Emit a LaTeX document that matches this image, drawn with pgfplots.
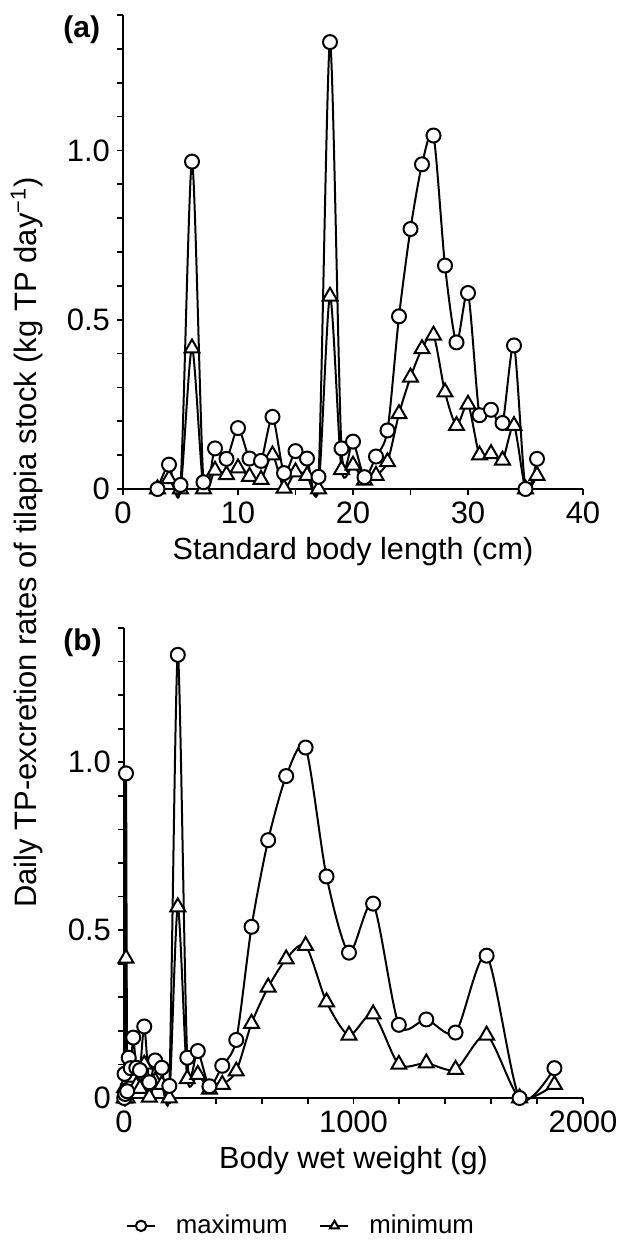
\documentclass[border=0pt]{standalone}
\usepackage{fontspec}
\setmainfont{Liberation Sans}
\usepackage{pgfplots}
\usepackage{pgfplotstable}
\pgfplotsset{compat=1.18}

\pgfplotstableread{
L W mx mn
3 1.09 0.000 0.000
4 2.57 0.072 0.030
5 5.03 0.012 0.000
6 8.68 0.967 0.416
7 13.79 0.020 0.000
8 20.58 0.120 0.055
9 29.31 0.089 0.042
10 40.2 0.180 0.062
11 53.5 0.090 0.037
12 69.5 0.083 0.028
13 88.3 0.213 0.100
14 110.3 0.047 0.002
15 135.7 0.112 0.050
16 164.7 0.090 0.040
17 197.5 0.036 0.000
18 234.4 1.320 0.569
19 275.7 0.120 0.057
20 321.6 0.140 0.070
21 372.3 0.035 0.026
22 428.1 0.096 0.040
23 489.1 0.173 0.080
24 555.7 0.510 0.222
25 628.1 0.768 0.330
26 706.6 0.959 0.414
27 791.3 1.044 0.454
28 882.5 0.660 0.286
29 980.4 0.433 0.187
30 1085.4 0.579 0.250
31 1197.6 0.218 0.100
32 1317.3 0.234 0.104
33 1444.7 0.195 0.085
34 1580.0 0.424 0.187
35 1723.6 0.000 0.000
36 1875.6 0.089 0.040
}\datatable

\pgfplotsset{
  common/.style={
    scale only axis,
    axis x line=bottom, axis y line=left,
    axis line style={-, line width=1pt},
    tick align=outside,
    major tick length=3pt, minor tick length=3pt,
    tick style={line width=0.9pt, black},
    clip=false,
    ymin=0, ymax=1.4,
    ytick={0,0.5,1}, yticklabels={0,0.5,1.0},
    minor ytick={0.1,0.2,0.3,0.4,0.6,0.7,0.8,0.9,1.1,1.2,1.3,1.4},
    tick label style={font=\fontsize{15.5}{18}\selectfont},
    label style={font=\fontsize{15.3}{18}\selectfont},
    /pgf/number format/assume math mode=true,
  },
  maxs/.style={black, line width=1pt, smooth, tension=0.45,
    mark=*, mark size=3.5pt, mark options={fill=white, draw=black, line width=1pt}},
  mins/.style={black, line width=1pt, smooth, tension=0.45,
    mark=triangle*, mark size=4.3pt, mark options={fill=white, draw=black, line width=1pt}},
}

\begin{document}
\begin{tikzpicture}
\path (0,0) rectangle (309pt,-627.5pt);

% panel (a)
\begin{axis}[common,
  at={(61.5pt,-244.5pt)}, anchor=south west,
  width=230pt, height=237pt,
  xmin=0, xmax=40,
  xtick={0,10,20,30,40}, xticklabels={0,10,20,30,40},
  minor xtick={5,15,25,35},
  xlabel={Standard body length (cm)},
]
\addplot[mins] table[x=L, y=mn] {\datatable};
\addplot[maxs] table[x=L, y=mx] {\datatable};
\end{axis}

% panel (b)
\begin{axis}[common,
  at={(62pt,-549pt)}, anchor=south west,
  width=229.5pt, height=235pt,
  xmin=0, xmax=2000,
  xtick={0,1000,2000}, xticklabels={0,1000,2000},
  minor xtick={200,400,600,800,1200,1400,1600,1800},
  xlabel={Body wet weight (g)},
  legend columns=2, reverse legend,
  legend style={at={(0.388,-0.272)}, anchor=center, draw=none, fill=none,
    font=\fontsize{12.9}{15}\selectfont, inner sep=0pt,
    /tikz/every odd column/.append style={column sep=8pt},
    /tikz/every even column/.append style={column sep=14pt}},
  legend image code/.code={
    \draw[mark repeat=2,mark phase=2,#1,mark size=2.6pt, line width=0.8pt]
      plot coordinates {(0pt,0pt) (7pt,0pt) (14pt,0pt)};
  },
]
\addplot[mins] table[x=W, y=mn] {\datatable};
\addlegendentry{minimum}
\addplot[maxs] table[x=W, y=mx] {\datatable};
\addlegendentry{maximum}
\end{axis}

\node[rotate=90, anchor=base, font=\fontsize{15.5}{18}\selectfont] at (18pt,-271.25pt)
  {Daily TP-excretion rates of tilapia stock (kg TP day\textsuperscript{−1})};
\node[anchor=north west, inner sep=0pt, font=\fontsize{15}{18}\selectfont\bfseries] at (31.5pt,-7.5pt) {(a)};
\node[anchor=north west, inner sep=0pt, font=\fontsize{15}{18}\selectfont\bfseries] at (31.5pt,-314pt) {(b)};
\end{tikzpicture}
\end{document}
